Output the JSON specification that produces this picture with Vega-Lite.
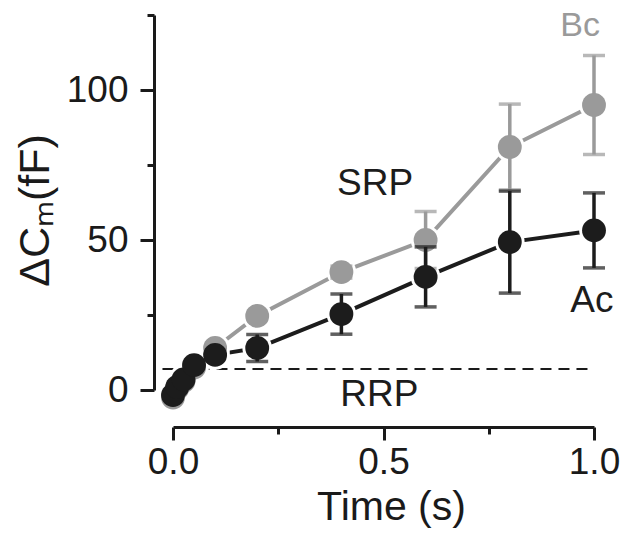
{
  "$schema": "https://vega.github.io/schema/vega-lite/v6.json",
  "width": 421,
  "height": 375,
  "autosize": {"type": "none"},
  "padding": {"left": 173, "top": 15, "right": 43, "bottom": 143},
  "background": "white",
  "config": {
    "view": {"stroke": null},
    "font": "Liberation Sans",
    "axis": {
      "domainColor": "#1a1a1a",
      "domainWidth": 3,
      "tickColor": "#1a1a1a",
      "tickWidth": 3,
      "labelColor": "#1a1a1a",
      "titleColor": "#1a1a1a",
      "labelFont": "Liberation Sans",
      "titleFont": "Liberation Sans",
      "labelFontSize": 37,
      "titleFontSize": 41,
      "titleFontWeight": "normal",
      "grid": false,
      "labelOverlap": false,
      "labelFlush": false
    }
  },
  "datasets": {
    "pts": [
      {"s": "Bc", "t": 0.0, "v": -2.5, "err": 0},
      {"s": "Bc", "t": 0.01, "v": 0.5, "err": 0},
      {"s": "Bc", "t": 0.025, "v": 3.0, "err": 0},
      {"s": "Bc", "t": 0.05, "v": 7.5, "err": 0},
      {"s": "Bc", "t": 0.1, "v": 14.0, "err": 0},
      {"s": "Bc", "t": 0.2, "v": 24.7, "err": 0},
      {"s": "Bc", "t": 0.4, "v": 39.3, "err": 2},
      {"s": "Bc", "t": 0.6, "v": 50.0, "err": 9.5},
      {"s": "Bc", "t": 0.8, "v": 81.0, "err": 14.3},
      {"s": "Bc", "t": 1.0, "v": 95.0, "err": 16.5},
      {"s": "Ac", "t": 0.0, "v": -1.7, "err": 0},
      {"s": "Ac", "t": 0.01, "v": 1.0, "err": 0},
      {"s": "Ac", "t": 0.025, "v": 3.5, "err": 0},
      {"s": "Ac", "t": 0.05, "v": 8.3, "err": 0},
      {"s": "Ac", "t": 0.1, "v": 11.7, "err": 0},
      {"s": "Ac", "t": 0.2, "v": 14.0, "err": 4.5},
      {"s": "Ac", "t": 0.4, "v": 25.3, "err": 6.7},
      {"s": "Ac", "t": 0.6, "v": 37.7, "err": 10},
      {"s": "Ac", "t": 0.8, "v": 49.3, "err": 17},
      {"s": "Ac", "t": 1.0, "v": 53.2, "err": 12.5}
    ],
    "ann": [
      {"label": "Bc", "t": 0.967, "v": 121.3, "c": "Bc", "fs": "small"},
      {"label": "SRP", "t": 0.48, "v": 68.8, "c": "Ac", "fs": "big"},
      {"label": "Ac", "t": 0.995, "v": 29.7, "c": "Ac", "fs": "big"},
      {"label": "RRP", "t": 0.49, "v": -1.5, "c": "Ac", "fs": "big"}
    ],
    "rrp": [{"x0": -0.025, "x1": 1.0, "y": 7}]
  },
  "encoding": {
    "x": {
      "field": "t",
      "type": "quantitative",
      "scale": {"domain": [0, 1], "nice": false, "zero": false},
      "axis": {
        "title": "Time (s)",
        "values": [0, 0.25, 0.5, 0.75, 1],
        "format": ".1f",
        "labelExpr": "(datum.value * 4) % 2 === 0 ? datum.label : ''",
        "offset": 37,
        "tickSize": {"condition": {"test": "(datum.value * 4) % 2 === 0", "value": 13}, "value": 7},
        "labelPadding": 4,
        "titlePadding": 7,
        "titleX": 218
      }
    },
    "y": {
      "field": "v",
      "type": "quantitative",
      "scale": {"domain": [0, 125], "nice": false},
      "axis": {
        "title": "ΔCₘ(fF)",
        "titleFontSize": 43,
        "values": [0, 25, 50, 75, 100, 125],
        "labelExpr": "datum.value % 50 === 0 ? datum.label : ''",
        "offset": 19,
        "tickSize": {"condition": {"test": "datum.value % 50 === 0", "value": 14}, "value": 7},
        "labelPadding": 12,
        "titlePadding": 9,
        "titleY": 195
      }
    }
  },
  "layer": [
    {
      "data": {"name": "rrp"},
      "mark": {"type": "rule", "strokeDash": [11, 7], "strokeWidth": 2, "color": "#1a1a1a"},
      "encoding": {
        "x": {"field": "x0", "type": "quantitative"},
        "x2": {"field": "x1"},
        "y": {"field": "y", "type": "quantitative"}
      }
    },
    {
      "data": {"name": "pts"},
      "transform": [{"filter": "datum.s === 'Bc'"}],
      "mark": {"type": "line", "strokeWidth": 4, "color": "#9a9a9a"},
      "encoding": {}
    },
    {
      "data": {"name": "pts"},
      "transform": [{"filter": "datum.s === 'Ac'"}],
      "mark": {"type": "line", "strokeWidth": 4, "color": "#1c1c1c"},
      "encoding": {}
    },
    {
      "data": {"name": "pts"},
      "mark": {"type": "point", "filled": true, "opacity": 1, "color": "white", "size": 880},
      "encoding": {}
    },
    {
      "data": {"name": "pts"},
      "transform": [{"filter": "datum.s === 'Bc' && datum.err > 0"}],
      "mark": {"type": "errorbar", "ticks": true, "color": "#9a9a9a", "thickness": 3.5, "size": 22},
      "encoding": {"yError": {"field": "err"}}
    },
    {
      "data": {"name": "pts"},
      "transform": [{"filter": "datum.s === 'Bc'"}],
      "mark": {"type": "point", "filled": true, "opacity": 1, "color": "#9a9a9a", "size": 570},
      "encoding": {}
    },
    {
      "data": {"name": "pts"},
      "transform": [{"filter": "datum.s === 'Ac' && datum.err > 0"}],
      "mark": {"type": "errorbar", "ticks": true, "color": "#1c1c1c", "thickness": 3.5, "size": 22},
      "encoding": {"yError": {"field": "err"}}
    },
    {
      "data": {"name": "pts"},
      "transform": [{"filter": "datum.s === 'Ac'"}],
      "mark": {"type": "point", "filled": true, "opacity": 1, "color": "#1c1c1c", "size": 570},
      "encoding": {}
    },
    {
      "data": {"name": "ann"},
      "mark": {"type": "text", "font": "Liberation Sans", "baseline": "middle", "align": "center"},
      "encoding": {
        "text": {"field": "label"},
        "size": {"field": "fs", "type": "nominal", "scale": {"domain": ["small", "big"], "range": [34, 37]}, "legend": null},
        "color": {"field": "c", "type": "nominal", "scale": {"domain": ["Bc", "Ac"], "range": ["#9a9a9a", "#1c1c1c"]}, "legend": null}
      }
    }
  ]
}
